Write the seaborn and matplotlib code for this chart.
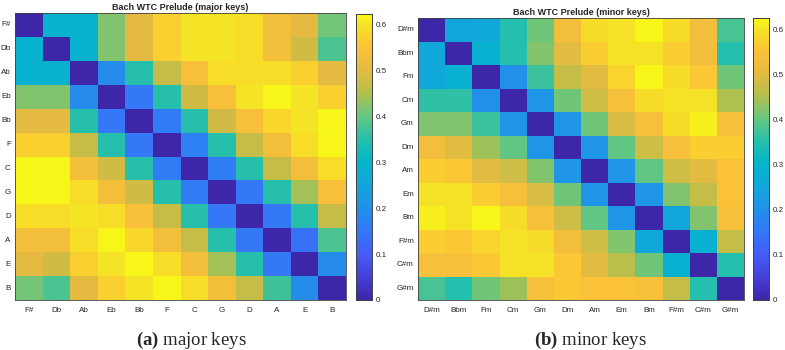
import numpy as np
import pandas as pd
import matplotlib
matplotlib.use("Agg")
import matplotlib.pyplot as plt
from matplotlib.colors import LinearSegmentedColormap
import seaborn as sns

major_keys = ["F#", "Db", "Ab", "Eb", "Bb", "F", "C", "G", "D", "A", "E", "B"]
minor_keys = ["D#m", "Bbm", "Fm", "Cm", "Gm", "Dm", "Am", "Em", "Bm", "F#m", "C#m", "G#m"]

major_vals = [
    [0.00, 0.29, 0.29, 0.42, 0.50, 0.57, 0.60, 0.60, 0.59, 0.53, 0.50, 0.41],
    [0.29, 0.00, 0.29, 0.42, 0.50, 0.57, 0.60, 0.60, 0.59, 0.53, 0.48, 0.38],
    [0.29, 0.29, 0.00, 0.19, 0.35, 0.47, 0.54, 0.59, 0.59, 0.59, 0.57, 0.50],
    [0.42, 0.42, 0.19, 0.00, 0.15, 0.35, 0.48, 0.54, 0.60, 0.615, 0.60, 0.57],
    [0.50, 0.50, 0.35, 0.15, 0.00, 0.16, 0.35, 0.48, 0.54, 0.58, 0.60, 0.615],
    [0.57, 0.57, 0.47, 0.35, 0.15, 0.00, 0.17, 0.35, 0.47, 0.53, 0.59, 0.615],
    [0.615, 0.615, 0.53, 0.48, 0.35, 0.16, 0.00, 0.16, 0.35, 0.47, 0.53, 0.59],
    [0.615, 0.615, 0.59, 0.53, 0.48, 0.35, 0.16, 0.00, 0.15, 0.35, 0.44, 0.54],
    [0.59, 0.59, 0.60, 0.59, 0.54, 0.47, 0.35, 0.15, 0.00, 0.15, 0.35, 0.47],
    [0.53, 0.53, 0.59, 0.615, 0.58, 0.53, 0.47, 0.35, 0.15, 0.00, 0.14, 0.38],
    [0.50, 0.48, 0.57, 0.60, 0.615, 0.59, 0.53, 0.44, 0.35, 0.15, 0.00, 0.19],
    [0.41, 0.38, 0.50, 0.57, 0.60, 0.615, 0.59, 0.53, 0.47, 0.37, 0.19, 0.00],
]

minor_vals = [
    [0.00, 0.25, 0.26, 0.35, 0.41, 0.53, 0.59, 0.60, 0.62, 0.59, 0.53, 0.38],
    [0.26, 0.00, 0.29, 0.35, 0.42, 0.50, 0.57, 0.60, 0.60, 0.57, 0.53, 0.35],
    [0.26, 0.29, 0.00, 0.20, 0.37, 0.47, 0.50, 0.58, 0.62, 0.59, 0.56, 0.41],
    [0.36, 0.36, 0.20, 0.00, 0.21, 0.41, 0.48, 0.54, 0.59, 0.60, 0.60, 0.45],
    [0.42, 0.42, 0.37, 0.21, 0.00, 0.21, 0.41, 0.49, 0.54, 0.59, 0.615, 0.54],
    [0.53, 0.50, 0.44, 0.40, 0.21, 0.00, 0.21, 0.40, 0.48, 0.54, 0.57, 0.57],
    [0.57, 0.56, 0.50, 0.48, 0.42, 0.21, 0.00, 0.21, 0.40, 0.48, 0.50, 0.55],
    [0.60, 0.60, 0.57, 0.54, 0.49, 0.41, 0.21, 0.00, 0.21, 0.42, 0.47, 0.55],
    [0.615, 0.60, 0.62, 0.59, 0.54, 0.48, 0.40, 0.21, 0.00, 0.25, 0.42, 0.54],
    [0.57, 0.56, 0.58, 0.60, 0.59, 0.53, 0.48, 0.42, 0.26, 0.00, 0.29, 0.47],
    [0.54, 0.54, 0.56, 0.60, 0.60, 0.56, 0.50, 0.46, 0.41, 0.29, 0.00, 0.35],
    [0.38, 0.35, 0.41, 0.44, 0.54, 0.56, 0.55, 0.55, 0.54, 0.47, 0.35, 0.00],
]

cbar_ticks = [0, 0.1, 0.2, 0.3, 0.4, 0.5, 0.6]
cbar_labels = ["0", "0.1", "0.2", "0.3", "0.4", "0.5", "0.6"]

# parula-like colormap (position, colour)
parula_pts = [
    (0.000, (0.242, 0.150, 0.660)),
    (0.081, (0.270, 0.250, 0.850)),
    (0.161, (0.270, 0.360, 0.970)),
    (0.242, (0.200, 0.470, 0.970)),
    (0.323, (0.130, 0.570, 0.910)),
    (0.403, (0.070, 0.650, 0.860)),
    (0.484, (0.020, 0.710, 0.800)),
    (0.565, (0.150, 0.750, 0.670)),
    (0.645, (0.400, 0.780, 0.500)),
    (0.726, (0.700, 0.750, 0.300)),
    (0.806, (0.900, 0.730, 0.250)),
    (0.887, (0.990, 0.760, 0.220)),
    (0.968, (0.960, 0.900, 0.140)),
    (1.000, (0.977, 0.984, 0.080)),
]
parula = LinearSegmentedColormap.from_list("parula", parula_pts, N=256)

sns.set_style("white")
plt.rcParams["font.family"] = ["Liberation Sans", "DejaVu Sans"]
plt.rcParams["mathtext.fontset"] = "custom"
plt.rcParams["mathtext.rm"] = "Liberation Serif"
plt.rcParams["mathtext.bf"] = "Liberation Serif:bold"

fig = plt.figure(figsize=(7.85, 3.5), dpi=100)
W, H = 785.0, 350.0

def box(x0, y0, x1, y1):
    return [x0 / W, 1 - y1 / H, (x1 - x0) / W, (y1 - y0) / H]

panels = [
    (major_vals, major_keys, "Bach WTC Prelude (major keys)",
     box(15, 13, 346, 300), box(356, 14, 372, 300), 0.622),
    (minor_vals, minor_keys, "Bach WTC Prelude (minor keys)",
     box(418, 18, 744, 300), box(753, 18, 769, 300), 0.625),
]

edge = "#404040"
for vals, keys, title, axbox, cbbox, vmax in panels:
    ax = fig.add_axes(axbox)
    cax = fig.add_axes(cbbox)
    df = pd.DataFrame(vals, index=keys, columns=keys)
    sns.heatmap(df, ax=ax, cbar_ax=cax, cmap=parula, vmin=0, vmax=vmax,
                cbar_kws={"ticks": cbar_ticks})
    ax.set_title(title, fontsize=6.5, fontweight="bold", pad=2.5)
    ax.set_xticklabels(keys, rotation=0, fontsize=5.8)
    ax.set_yticklabels(keys, rotation=0, fontsize=5.8)
    ax.tick_params(axis="both", direction="in", length=2, width=0.5, color=edge,
                   top=True, right=True, bottom=True, left=True)
    ax.tick_params(axis="x", pad=5)
    ax.tick_params(axis="y", pad=3)
    for s in ax.spines.values():
        s.set_visible(True)
        s.set_linewidth(0.6)
        s.set_color(edge)
    cax.yaxis.set_ticks_position("both")
    cax.set_yticks(cbar_ticks)
    cax.set_yticklabels(cbar_labels)
    cax.tick_params(labelsize=5.8, direction="in", length=2, width=0.5,
                    color=edge, left=True, right=True, labelleft=False,
                    labelright=True, pad=3)
    for s in cax.spines.values():
        s.set_visible(True)
        s.set_linewidth(0.6)
        s.set_color(edge)

fig.text(191 / W, 1 - 340 / H, r"$\mathbf{(a)}$ major keys", ha="center", va="center",
         fontsize=13.5, family="Liberation Serif")
fig.text(590 / W, 1 - 340 / H, r"$\mathbf{(b)}$ minor keys", ha="center", va="center",
         fontsize=13.5, family="Liberation Serif")

fig.savefig("out.png", dpi=100)
